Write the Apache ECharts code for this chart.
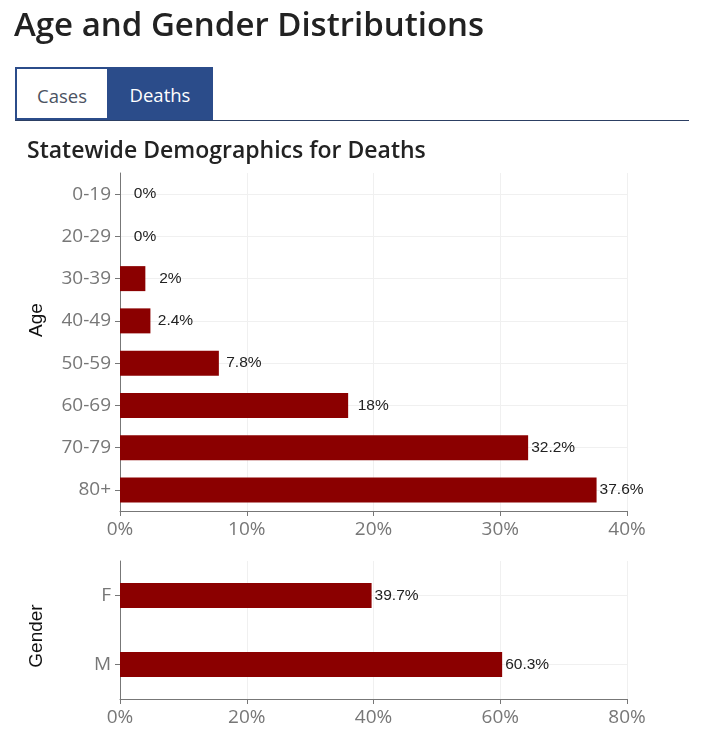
<!DOCTYPE html>
<html>
<head>
<meta charset="utf-8">
<script src="https://cdn.jsdelivr.net/npm/echarts@6/dist/echarts.min.js"></script>
<style>
  html, body { margin: 0; padding: 0; background: #fff; }
  body { width: 704px; height: 755px; position: relative; overflow: hidden; font-family: "Open Sans", sans-serif; }
  #title { position: absolute; left: 14px; top: 1px; font-size: 33px; color: #222; margin: 0; font-weight: 600; white-space: nowrap; letter-spacing: 0px; }
  #tabs { position: absolute; left: 15px; top: 67px; width: 674px; height: 54px; border-bottom: 1.5px solid #2c3f63; box-sizing: border-box; }
  .tab { position: absolute; top: 0; height: 53px; box-sizing: border-box; font-size: 18.5px; line-height: 53px; text-align: center; }
  #tabCases { left: 0; width: 92px; border: 2px solid #2b4c8a; border-right: none; color: #4b5262; background: #fff; line-height: 53px; }
  #tabDeaths { left: 92px; width: 106px; background: #2b4c8a; color: #fff; line-height: 56px; }
  #chart { position: absolute; left: 0; top: 0; width: 704px; height: 755px; }
</style>
</head>
<body>
<div id="chart"></div>
<h1 id="title">Age and Gender Distributions</h1>
<div id="tabs">
  <div class="tab" id="tabCases">Cases</div>
  <div class="tab" id="tabDeaths">Deaths</div>
</div>
<script>
const subtitle = "Statewide Demographics for Deaths";
const ageAxisTitle = "Age";
const genderAxisTitle = "Gender";
const ageCategories = ["0-19", "20-29", "30-39", "40-49", "50-59", "60-69", "70-79", "80+"];
const ageValues = [0, 0, 2, 2.4, 7.8, 18, 32.2, 37.6];
const genderCategories = ["F", "M"];
const genderValues = [39.7, 60.3];

const barColor = "#8b0000";
const font = "Open Sans";
const gridColor = "#f0f0f0";
const axisColor = "#777";

function valueAxis(gridIndex, max, interval) {
  return {
    type: "value", gridIndex: gridIndex, min: 0, max: max, interval: interval,
    axisLine: { show: true, lineStyle: { color: axisColor, width: 1 } },
    axisTick: { show: true, length: 5, lineStyle: { color: axisColor } },
    axisLabel: { formatter: "{value}%", color: "#777", fontSize: 19, fontFamily: font, margin: 9 },
    splitLine: { show: true, lineStyle: { color: gridColor, width: 1 } }
  };
}
function catAxis(gridIndex, cats) {
  return {
    type: "category", gridIndex: gridIndex, data: cats, inverse: true,
    axisLine: { show: true, lineStyle: { color: axisColor, width: 1 } },
    axisTick: { show: true, alignWithLabel: true, length: 5, lineStyle: { color: axisColor } },
    axisLabel: { color: "#777", fontSize: 19, fontFamily: font, margin: 9 },
    splitLine: { show: true, alignWithLabel: true, lineStyle: { color: gridColor, width: 1 } }
  };
}
const labelCfg = {
  show: true, position: "right", distance: 25, align: "center",
  formatter: p => p.value + "%",
  color: "#222", fontSize: 15.5, fontFamily: "Liberation Sans"
};
function axisTitle(text, x, y) {
  return {
    type: "text", x: x, y: y, rotation: Math.PI / 2,
    style: { text: text, fontSize: 19, fontFamily: "Liberation Sans", fill: "#111", align: "center", verticalAlign: "middle" }
  };
}

const chart = echarts.init(document.getElementById("chart"), null, { renderer: "canvas" });
chart.setOption({
  animation: false,
  title: {
    text: subtitle, left: 22, top: 135,
    textStyle: { fontFamily: font, fontSize: 23, fontWeight: 600, color: "#222" }
  },
  graphic: [axisTitle(ageAxisTitle, 37, 320), axisTitle(genderAxisTitle, 37, 636)],
  grid: [
    { left: 120, top: 173, width: 507, height: 338 },
    { left: 120, top: 561, width: 507, height: 138 }
  ],
  xAxis: [valueAxis(0, 40, 10), valueAxis(1, 80, 20)],
  yAxis: [catAxis(0, ageCategories), catAxis(1, genderCategories)],
  series: [
    { type: "bar", xAxisIndex: 0, yAxisIndex: 0, data: ageValues, barWidth: 25,
      itemStyle: { color: barColor }, label: labelCfg },
    { type: "bar", xAxisIndex: 1, yAxisIndex: 1, data: genderValues, barWidth: 25,
      itemStyle: { color: barColor }, label: labelCfg }
  ]
});
</script>
</body>
</html>
